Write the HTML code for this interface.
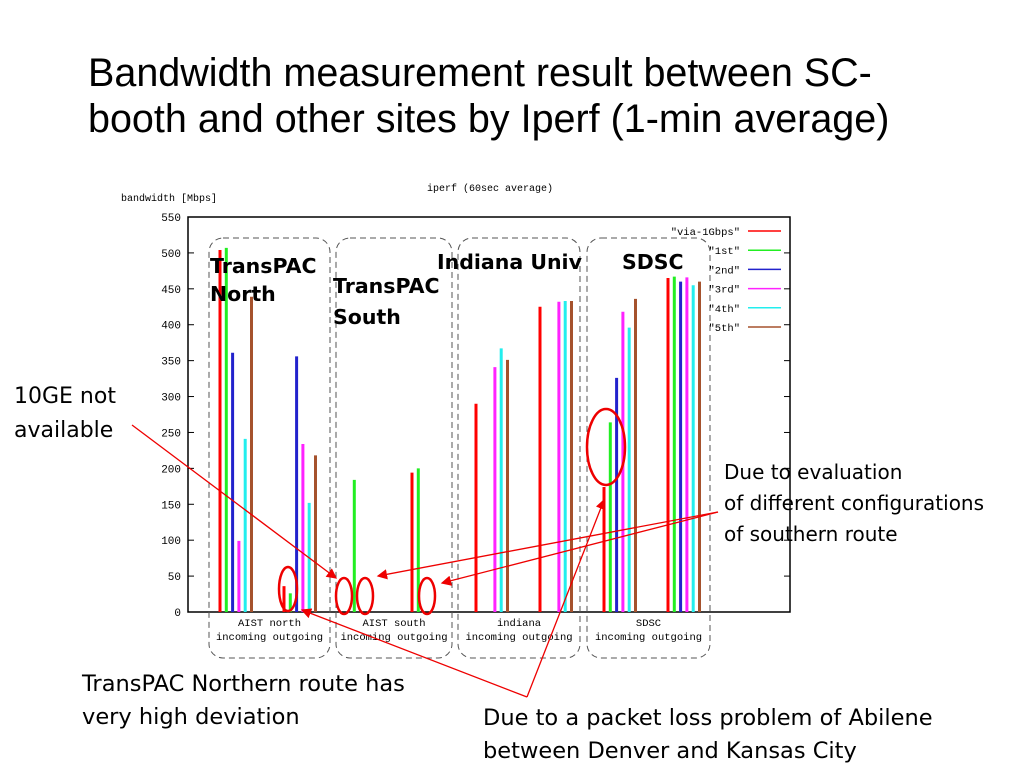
<!DOCTYPE html>
<html><head><meta charset="utf-8"><style>
body{margin:0;background:#fff;width:1024px;height:768px;overflow:hidden;position:relative;font-family:"Liberation Sans",sans-serif}
.t{position:absolute;color:#000;white-space:nowrap}
.d{font-family:"DejaVu Sans",sans-serif}
</style></head><body>
<div class="t" style="left:88px;top:50px;font-size:39.5px;line-height:46px;">Bandwidth measurement result between SC-<br>booth and other sites by Iperf (1-min average)</div>
<svg id="chart" width="1024" height="768" style="position:absolute;left:0;top:0" xmlns="http://www.w3.org/2000/svg"></svg>
<div class="t d" style="left:14px;top:380px;font-size:22px;line-height:34px;">10GE not<br>available</div>
<div class="t d" style="left:724px;top:457px;font-size:20px;line-height:31px;">Due to evaluation<br>of different configurations<br>of southern route</div>
<div class="t d" style="left:82px;top:668px;font-size:22.5px;line-height:33px;">TransPAC Northern route has<br>very high deviation</div>
<div class="t d" style="left:483px;top:702px;font-size:22.5px;line-height:33px;">Due to a packet loss problem of Abilene<br>between Denver and Kansas City</div>
<script>
const categories=["AIST north in","AIST north out","AIST south in","AIST south out","indiana in","indiana out","SDSC in","SDSC out"];
const seriesNames=["\"via-1Gbps\"","\"1st\"","\"2nd\"","\"3rd\"","\"4th\"","\"5th\""];
const viaValues=[504,36,0,194,290,425,174,465];
const firstValues=[507,26,184,200,0,0,264,467];
const secondValues=[361,356,0,0,0,0,326,460];
const thirdValues=[99,234,0,0,341,432,418,466];
const fourthValues=[241,152,0,0,367,433,396,455];
const fifthValues=[439,218,0,0,351,433,436,460];
const yTicks=[0,50,100,150,200,250,300,350,400,450,500,550];
const colors=["#f00","#2e2","#22c","#f2f","#2ee","#a5522d"];
const series=[viaValues,firstValues,secondValues,thirdValues,fourthValues,fifthValues];
const svg=document.getElementById('chart');const NS="http://www.w3.org/2000/svg";
function mk(t,a,p){const e=document.createElementNS(NS,t);for(const k in a)e.setAttribute(k,a[k]);(p||svg).appendChild(e);return e;}
const X0=188,X1=790,Y0=612,Y1=217;
const y=v=>Y0-(v/550)*(Y0-Y1);
const x=(g,s)=>220+64*g+6.3*s;
let e;
e=mk('rect',{x:X0,y:Y1,width:X1-X0,height:Y0-Y1,fill:'none',stroke:'#000','stroke-width':1.5});


yTicks.forEach(v=>{
 e=mk('line',{x1:X0,x2:X0+6,y1:y(v),y2:y(v),stroke:'#000'});
 
 
 e=mk('line',{x1:X1-6,x2:X1,y1:y(v),y2:y(v),stroke:'#000'});
 
 
 e=mk('text',{x:181,y:y(v)+4,'text-anchor':'end','font-size':11,'font-family':'Liberation Mono, monospace'});e.textContent=v;
 
 
});
e=mk('text',{x:121,y:201,'font-size':10,'font-family':'Liberation Mono, monospace'});e.textContent="bandwidth [Mbps]";


e=mk('text',{x:490,y:191,'text-anchor':'middle','font-size':10,'font-family':'Liberation Mono, monospace'});e.textContent="iperf (60sec average)";


const boxes=[[209,330,"AIST north"],[336,452,"AIST south"],[458,580,"indiana"],[587,710,"SDSC"]];
boxes.forEach(b=>{
 e=mk('rect',{x:b[0],y:238,width:b[1]-b[0],height:420,rx:14,fill:'none',stroke:'#555','stroke-dasharray':'6,4'});
 
 
 e=mk('text',{x:(b[0]+b[1])/2,y:626,'text-anchor':'middle','font-size':10.5,'font-family':'Liberation Mono, monospace'});e.textContent=b[2];
 
 
 e=mk('text',{x:(b[0]+b[1])/2,y:640,'text-anchor':'middle','font-size':10.5,'font-family':'Liberation Mono, monospace'});e.textContent="incoming outgoing";
 
 
});
series.forEach((vals,s)=>vals.forEach((v,g)=>{
 if(v<=0)return;
 e=mk('line',{x1:x(g,s),x2:x(g,s),y1:Y0,y2:y(v),stroke:colors[s],'stroke-width':3});
 
 
}));
seriesNames.forEach((n,i)=>{
 const ly=231+19.2*i;
 e=mk('text',{x:740,y:ly+4,'text-anchor':'end','font-size':10.5,'font-family':'Liberation Mono, monospace'});e.textContent=n;
 
 
 e=mk('line',{x1:748,x2:781,y1:ly,y2:ly,stroke:colors[i],'stroke-width':1.5});
 
 
});
[["TransPAC",210,273],["North",210,301],["TransPAC",333,293],["South",333,324],["Indiana Univ",437,269],["SDSC",622,269]].forEach(l=>{
 e=mk('text',{x:l[1],y:l[2],'font-size':20.5,'font-weight':'bold','font-family':'DejaVu Sans, sans-serif'});e.textContent=l[0];
 
 
});
[[288,589,9,22],[344,596,8,18],[365,596,8,18],[427,596,8,18],[606,447,19,38]].forEach(c=>{
 e=mk('ellipse',{cx:c[0],cy:c[1],rx:c[2],ry:c[3],fill:'none',stroke:'#e00','stroke-width':2.5});
 
 
});
mk('defs',{}).innerHTML='<marker id="ah" markerWidth="8" markerHeight="8" refX="7" refY="4" orient="auto"><path d="M0,0 L8,4 L0,8 z" fill="#e00"/></marker>';
[[132,425,336,578],[718,512,378,576],[718,512,442,583],[527,697,302,610],[527,697,604,500]].forEach(a=>{
 e=mk('line',{x1:a[0],y1:a[1],x2:a[2],y2:a[3],stroke:'#e00','stroke-width':1.3,'marker-end':'url(#ah)'});
 
 
});
</script>
</body></html>
